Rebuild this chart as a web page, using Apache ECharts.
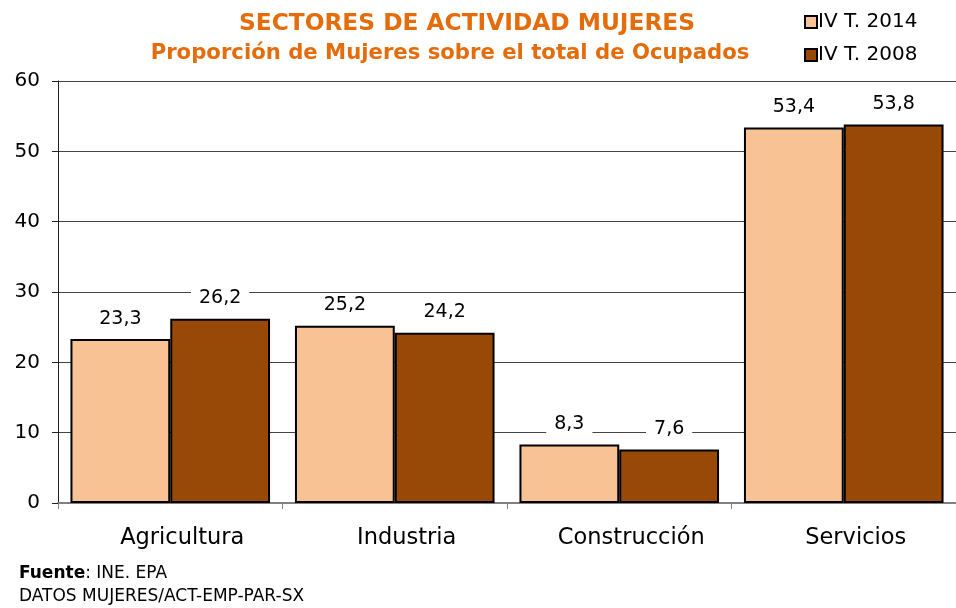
<!DOCTYPE html>
<html><head><meta charset="utf-8">
<script src="https://cdn.jsdelivr.net/npm/echarts@6/dist/echarts.min.js"></script>
<style>html,body{margin:0;padding:0;background:#fff}#c{width:956px;height:608px}</style>
</head><body><div id="c"></div>
<script>
const categories = ['Agricultura', 'Industria', 'Construcción', 'Servicios'];
const series2014 = [23.3, 25.2, 8.3, 53.4];
const series2008 = [26.2, 24.2, 7.6, 53.8];
const seriesNames = ['IV T. 2014', 'IV T. 2008'];
const yTicks = { min: 0, max: 60, interval: 10 };
const titleLines = ['SECTORES DE ACTIVIDAD MUJERES', 'Proporción de Mujeres sobre el total de Ocupados'];
const footerLines = ['Fuente', ': INE. EPA', 'DATOS MUJERES/ACT-EMP-PAR-SX'];

const FONT = 'DejaVu Sans';
const chart = echarts.init(document.getElementById('c'), null, { renderer: 'canvas' });
const labelCfg = {
  show: true, position: 'top', distance: 9, color: '#000', fontFamily: FONT, fontSize: 19,
  backgroundColor: '#fff', padding: [2, 8],
  formatter: p => String(p.value).replace('.', ',')
};
chart.setOption({
  animation: false,
  title: [
    { text: titleLines[0], left: 462, top: 7, textAlign: 'center',
      textStyle: { fontFamily: FONT, fontWeight: 'bold', fontSize: 23.3, color: '#E46C0A' } },
    { text: titleLines[1], left: 445, top: 38, textAlign: 'center',
      textStyle: { fontFamily: FONT, fontWeight: 'bold', fontSize: 21.2, color: '#E46C0A' } }
  ],
  legend: {
    orient: 'vertical', left: 799, top: 7, itemWidth: 12, itemHeight: 12, itemGap: 13,
    icon: 'rect',
    textStyle: { fontFamily: FONT, fontSize: 20, color: '#000', padding: [0, 0, 0, -4] },
    data: [
      { name: seriesNames[0], itemStyle: { color: '#F9C295', borderColor: '#000', borderWidth: 2 } },
      { name: seriesNames[1], itemStyle: { color: '#984807', borderColor: '#000', borderWidth: 2 } }
    ]
  },
  grid: { left: 58, top: 81, width: 900, height: 422, containLabel: false },
  xAxis: {
    type: 'category', data: categories,
    axisLine: { show: true, lineStyle: { color: '#808080', width: 2 } },
    axisTick: { show: true, length: 6, inside: false, lineStyle: { color: '#808080' } },
    axisLabel: { fontFamily: FONT, fontSize: 22.5, color: '#000', margin: 24, padding: [0, 0, 0, 24] }
  },
  yAxis: {
    type: 'value', min: yTicks.min, max: yTicks.max, interval: yTicks.interval,
    axisLine: { show: true, lineStyle: { color: '#222', width: 1 } },
    axisTick: { show: true, length: 6, lineStyle: { color: '#222' } },
    axisLabel: { fontFamily: FONT, fontSize: 20, color: '#000', margin: 18 },
    splitLine: { show: true, lineStyle: { color: '#444', width: 1 } }
  },
  series: [
    { name: seriesNames[0], type: 'bar', data: series2014, barGap: '0%', barCategoryGap: '11.1%',
      itemStyle: { color: '#F9C295', borderColor: '#000', borderWidth: 2 }, label: labelCfg },
    { name: seriesNames[1], type: 'bar', data: series2008,
      itemStyle: { color: '#984807', borderColor: '#000', borderWidth: 2 }, label: labelCfg }
  ],
  graphic: [
    { type: 'text', left: 19, top: 565, style: {
      text: '{b|' + footerLines[0] + '}' + footerLines[1],
      rich: { b: { fontWeight: 'bold', fontFamily: FONT, fontSize: 17, fill: '#000' } },
      fontFamily: FONT, fontSize: 17, fill: '#000' } },
    { type: 'text', left: 19, top: 588, style: { text: footerLines[2], fontFamily: FONT, fontSize: 17, fill: '#000' } }
  ]
});
</script></body></html>
